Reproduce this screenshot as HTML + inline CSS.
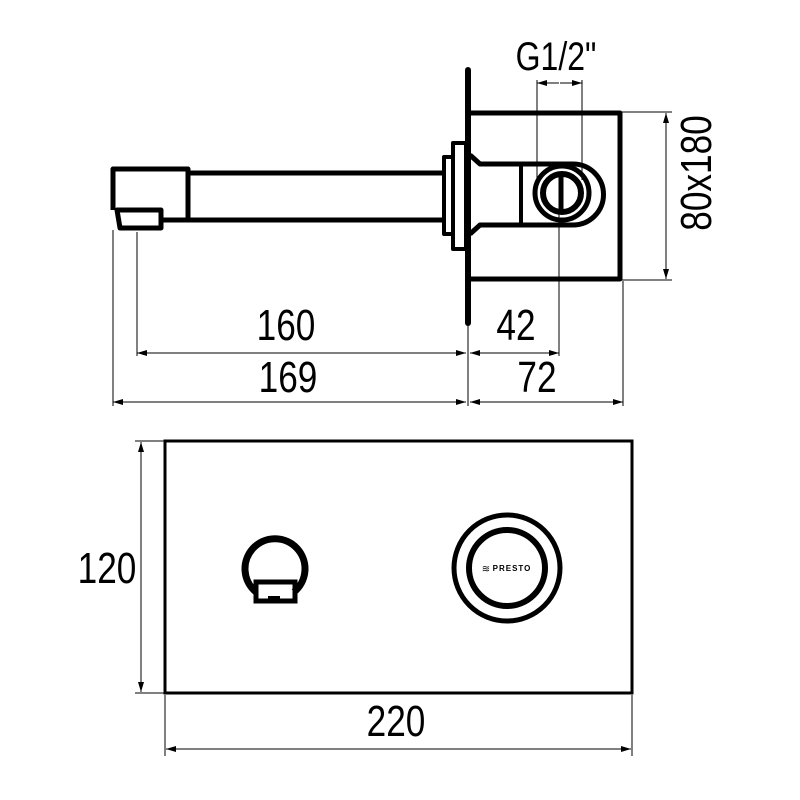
<!DOCTYPE html>
<html><head><style>body{margin:0;background:#fff}svg{display:block}</style></head><body>
<svg width="800" height="800" viewBox="0 0 800 800" xmlns="http://www.w3.org/2000/svg">
<defs>
<marker id="a" viewBox="0 0 10 6" refX="10" refY="3" markerWidth="12" markerHeight="6" orient="auto-start-reverse" markerUnits="userSpaceOnUse"><path d="M0,0L10,3L0,6z" fill="#000"/></marker>
</defs>
<g fill="none" stroke="#000" stroke-linejoin="round">
<path d="M113,210 V169 H188 V220 H162" stroke-width="5"/>
<path d="M117,210 H161 V228 H120 Z" stroke-width="5"/>
<path d="M188,173 H444 M188,220 H444" stroke-width="5"/>
<rect x="444" y="157" width="9" height="77" stroke-width="4"/>
<rect x="453" y="143" width="13" height="106" stroke-width="4"/>
<line x1="468" y1="70" x2="468" y2="323" stroke-width="6" stroke-linecap="round"/>
<path d="M470,113 H620 V279 H470" stroke-width="5"/>
<path d="M470,155 L480,164 H573 A30.5,30.5 0 0 1 573,225 H480 L470,234" stroke-width="5"/>
<line x1="521" y1="164" x2="521" y2="225" stroke-width="4"/>
<circle cx="562" cy="193" r="27" stroke-width="5"/>
<circle cx="562" cy="193" r="19" stroke-width="6"/>
<line x1="561" y1="175" x2="561" y2="211" stroke-width="5"/>
</g>
<g stroke="#000" stroke-width="1" fill="none">
<line x1="113" y1="230" x2="113" y2="406"/>
<line x1="137" y1="232" x2="137" y2="356"/>
<line x1="468" y1="323" x2="468" y2="406"/>
<line x1="559" y1="212" x2="559" y2="356"/>
<line x1="623" y1="281" x2="623" y2="406"/>
<line x1="537" y1="80" x2="537" y2="200"/>
<line x1="582" y1="80" x2="582" y2="180"/>
<line x1="622" y1="112" x2="672" y2="112"/>
<line x1="622" y1="280" x2="672" y2="280"/>
<line x1="137" y1="353" x2="466" y2="353" marker-start="url(#a)" marker-end="url(#a)"/>
<line x1="470" y1="353" x2="559" y2="353" marker-start="url(#a)" marker-end="url(#a)"/>
<line x1="113" y1="402" x2="466" y2="402" marker-start="url(#a)" marker-end="url(#a)"/>
<line x1="470" y1="402" x2="623" y2="402" marker-start="url(#a)" marker-end="url(#a)"/>
<line x1="537" y1="83" x2="559" y2="83" marker-start="url(#a)"/>
<line x1="560" y1="83" x2="582" y2="83" marker-end="url(#a)"/>
<line x1="666" y1="113" x2="666" y2="279" marker-start="url(#a)" marker-end="url(#a)"/>
<line x1="135" y1="441" x2="165" y2="441"/>
<line x1="135" y1="693" x2="165" y2="693"/>
<line x1="141" y1="442" x2="141" y2="692" marker-start="url(#a)" marker-end="url(#a)"/>
<line x1="165" y1="695" x2="165" y2="756"/>
<line x1="632" y1="695" x2="632" y2="756"/>
<line x1="166" y1="749" x2="631" y2="749" marker-start="url(#a)" marker-end="url(#a)"/>
</g>
<g fill="none" stroke="#000">
<rect x="165" y="441" width="467" height="252" stroke-width="3"/>
<path d="M256,592 A30,30 0 1 1 294,592" stroke-width="7"/>
<rect x="256" y="582" width="39" height="19" stroke-width="5"/>
<circle cx="507" cy="568" r="53" stroke-width="5"/>
<circle cx="507" cy="568" r="38" stroke-width="6"/>
</g>
<rect x="268" y="596" width="12" height="4" fill="#000"/>
<g font-family="Liberation Sans, sans-serif" fill="#000" text-anchor="middle" font-size="44">
<text transform="translate(286,340) scale(0.8,1)">160</text>
<text transform="translate(516,340) scale(0.8,1)">42</text>
<text transform="translate(288,392) scale(0.8,1)">169</text>
<text transform="translate(537,392) scale(0.8,1)">72</text>
<text transform="translate(556,70) scale(0.8,1)" font-size="40">G1/2"</text>
<text transform="translate(107,583) scale(0.8,1)">120</text>
<text transform="translate(396,736) scale(0.8,1)">220</text>
<text transform="translate(711,173) rotate(-90) scale(0.8,1)">80x180</text>
<text x="512" y="571" font-size="8" font-weight="bold" letter-spacing="1">PRESTO</text>
<text x="486" y="572" font-size="10">≋</text>
</g>
</svg>
</body></html>
